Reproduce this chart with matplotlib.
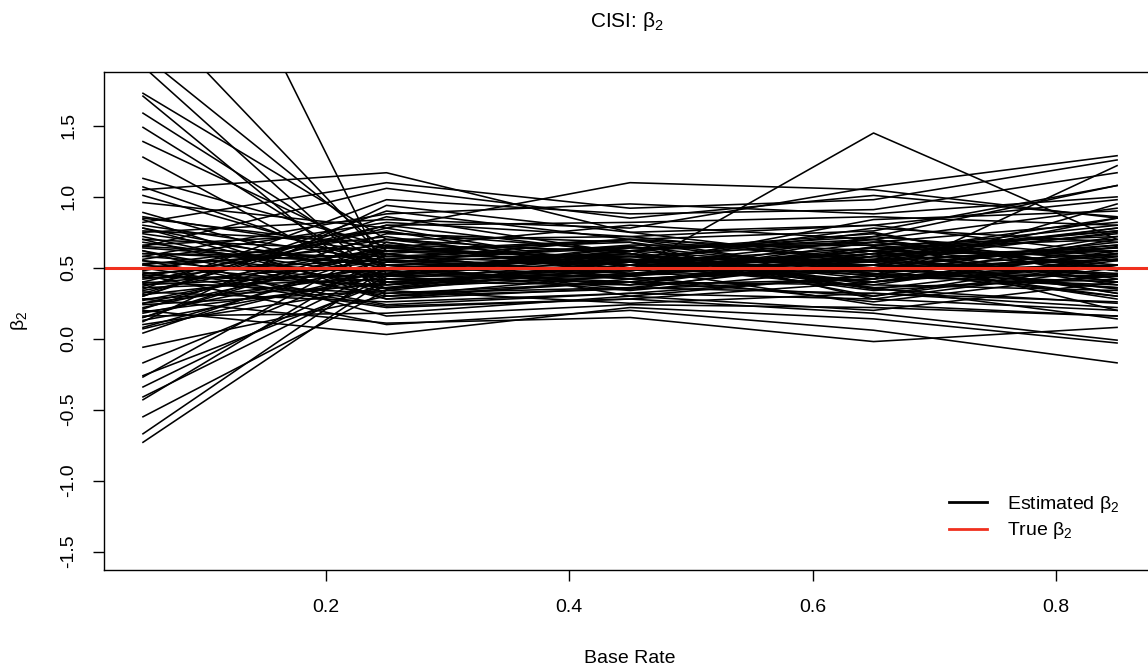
import numpy as np
import matplotlib.pyplot as plt
from matplotlib.lines import Line2D

plt.rcParams['font.family'] = ['Liberation Sans', 'DejaVu Sans']
plt.rcParams['mathtext.default'] = 'regular'

# base rates (x) and estimated beta_2 per replication at each base rate
base_rate = [0.05, 0.25, 0.45, 0.65, 0.85]
true_beta2 = 0.5

est_05 = [3.90, 2.35, 2.00, 1.92, 1.73, 1.71, 1.59, 1.49, 1.39, 1.28,
          1.13, 1.07, 1.05, 1.01, 0.96, 0.89, 0.86, 0.84, 0.80, 0.78,
          0.76, 0.74, 0.72, 0.70, 0.68, 0.66, 0.64, 0.62, 0.60, 0.58,
          0.56, 0.55, 0.53, 0.52, 0.50, 0.49, 0.47, 0.46, 0.44, 0.43,
          0.42, 0.40, 0.39, 0.37, 0.36, 0.34, 0.33, 0.31, 0.30, 0.28,
          0.27, 0.25, 0.24, 0.22, 0.21, 0.19, 0.18, 0.16, 0.15, 0.13,
          0.12, 0.10, 0.08, 0.07, 0.04, -0.06, -0.17, -0.26, -0.27, -0.34,
          -0.41, -0.43, -0.55, -0.67, -0.73, 0.82, 0.65, 0.35, 0.20, 0.45,
          0.58, 0.28, 0.50, 0.75, 0.62, 0.40, 0.55, 0.30, 0.70, 0.48,
          0.85, 0.15, 0.60, 0.38, 0.78, 0.25, 0.52, 0.45, 0.65, 0.32]

est_25 = [0.45, 0.55, 0.62, 0.38, 0.70, 0.30, 0.50, 0.42, 0.58, 0.35,
          0.65, 0.48, 1.17, 0.52, 0.78, 0.40, 0.60, 0.28, 0.55, 0.45,
          0.68, 0.50, 0.35, 0.62, 0.44, 0.75, 0.52, 0.30, 0.58, 0.46,
          0.82, 0.40, 0.60, 0.36, 0.66, 0.48, 0.22, 0.56, 0.70, 0.44,
          0.62, 0.32, 0.54, 0.78, 0.42, 0.64, 0.26, 0.50, 0.86, 0.38,
          0.60, 0.46, 0.34, 0.58, 0.74, 0.40, 0.52, 0.18, 0.66, 0.44,
          0.94, 0.36, 0.56, 0.48, 0.62, 0.30, 0.54, 0.40, 0.68, 0.50,
          0.44, 0.60, 0.34, 0.50, 0.42, 1.10, 1.06, 0.98, 0.03, 0.10,
          0.88, 0.11, 0.23, 0.84, 0.16, 0.80, 0.24, 0.90, 0.28, 0.76,
          0.64, 0.70, 0.54, 0.46, 0.32, 0.62, 0.72, 0.38, 0.56, 0.80]

est_45 = [0.55, 0.48, 0.70, 0.52, 0.60, 0.45, 0.58, 0.40, 0.65, 0.50,
          0.55, 0.62, 0.75, 0.35, 1.10, 0.48, 0.70, 0.42, 0.52, 0.60,
          0.45, 0.38, 0.55, 0.68, 0.50, 0.62, 0.42, 0.35, 0.58, 0.65,
          0.72, 0.48, 0.30, 0.55, 0.62, 0.40, 0.28, 0.70, 0.52, 0.45,
          0.58, 0.36, 0.66, 0.50, 0.44, 0.80, 0.32, 0.56, 0.60, 0.46,
          0.42, 0.62, 0.25, 0.52, 0.68, 0.38, 0.55, 0.30, 0.48, 0.58,
          0.75, 0.44, 0.64, 0.34, 0.52, 0.40, 0.60, 0.50, 0.46, 0.56,
          0.62, 0.42, 0.50, 0.38, 0.54, 0.92, 0.85, 0.88, 0.22, 0.20,
          0.95, 0.15, 0.28, 0.78, 0.24, 0.82, 0.32, 0.70, 0.36, 0.48,
          0.56, 0.72, 0.46, 0.64, 0.40, 0.58, 0.48, 0.54, 0.44, 0.60]

est_65 = [0.50, 0.62, 0.55, 0.45, 0.35, 0.68, 0.52, 0.60, 0.48, 0.40,
          0.75, 0.30, 0.55, 0.58, 1.05, 0.62, 0.45, 0.50, 0.70, 0.38,
          0.55, 0.65, 0.48, 0.28, 0.60, 0.72, 0.52, 0.42, 0.68, 0.35,
          0.55, 0.62, 0.45, 0.78, 0.50, 0.30, 0.40, 0.62, 0.84, 0.48,
          0.40, 0.55, 0.66, 0.24, 0.58, 0.70, 0.44, 0.52, 0.36, 0.62,
          0.50, 0.74, 0.32, 0.56, 0.46, 0.60, 0.40, 0.20, 0.64, 0.54,
          0.80, 0.26, 0.68, 0.50, 0.36, 0.58, 0.44, 0.62, 0.52, 0.34,
          0.70, 0.48, 0.58, 0.42, 0.64, 0.98, 1.01, 0.91, 0.14, 0.06,
          0.88, -0.02, 0.18, 1.07, 0.22, 0.86, 0.28, 0.76, 0.32, 1.45,
          0.46, 0.80, 0.56, 0.66, 0.38, 0.54, 0.60, 0.48, 0.72, 0.42]

est_85 = [0.60, 0.40, 0.45, 0.72, 0.55, 0.50, 0.30, 0.85, 0.52, 0.65,
          0.42, 0.58, 0.35, 0.78, 0.85, 0.20, 0.95, 0.68, 0.48, 0.62,
          0.75, 0.40, 0.58, 0.50, 0.32, 1.08, 0.45, 0.70, 0.55, 0.25,
          0.62, 0.80, 0.44, 0.68, 0.36, 0.52, 0.60, 0.76, 0.90, 0.30,
          0.56, 0.46, 0.72, 0.16, 0.64, 0.50, 0.38, 0.85, 0.42, 0.58,
          0.66, 0.48, 0.22, 0.78, 0.36, 0.62, 0.52, 0.40, 0.70, 0.28,
          0.60, 0.46, 0.82, 0.56, 0.14, 0.74, 0.50, 0.38, 0.64, 0.44,
          0.92, 0.56, 0.32, 0.60, 0.48, 1.26, 0.86, 1.17, -0.03, -0.17,
          1.00, 0.08, -0.01, 1.29, 0.16, 0.80, 0.20, 1.08, 0.26, 0.70,
          0.40, 0.98, 0.62, 0.52, 0.34, 0.66, 0.76, 0.44, 0.58, 1.22]

est = np.array([est_05, est_25, est_45, est_65, est_85])

fig = plt.figure(figsize=(11.48, 6.71), dpi=100)
ax = fig.add_axes([0.0906, 0.1505, 0.9164, 0.7422])

ax.plot(base_rate, est, color='black', lw=1.15)
ax.axhline(true_beta2, color='#f0301e', lw=2.2)

ax.set_xlim(0.018, 0.882)
ax.set_ylim(-1.63, 1.88)
ax.set_xticks([0.2, 0.4, 0.6, 0.8])
ax.set_yticks([-1.5, -1.0, -0.5, 0.0, 0.5, 1.0, 1.5])
ax.set_yticklabels(['-1.5', '-1.0', '-0.5', '0.0', '0.5', '1.0', '1.5'],
                   rotation=90, va='center')
ax.tick_params(direction='out', length=8, width=1, labelsize=14)
ax.tick_params(axis='x', pad=13)
ax.tick_params(axis='y', pad=11)
for s in ax.spines.values():
    s.set_linewidth(1)

ax.set_xlabel('Base Rate', fontsize=14, labelpad=24)
ax.set_ylabel('β$_2$', fontsize=14, labelpad=22)
fig.text(0.546, 0.968, 'CISI: β$_2$', fontsize=15, ha='center', va='center')

handles = [Line2D([], [], color='black', lw=2),
           Line2D([], [], color='#f0301e', lw=2)]
fig.legend(handles, ['Estimated β$_2$', 'True β$_2$'], loc='lower right',
           bbox_to_anchor=(0.990, 0.167), frameon=False, fontsize=14,
           handlelength=1.96, handletextpad=1.0, labelspacing=0.3)

fig.savefig('out.png', dpi=100)
